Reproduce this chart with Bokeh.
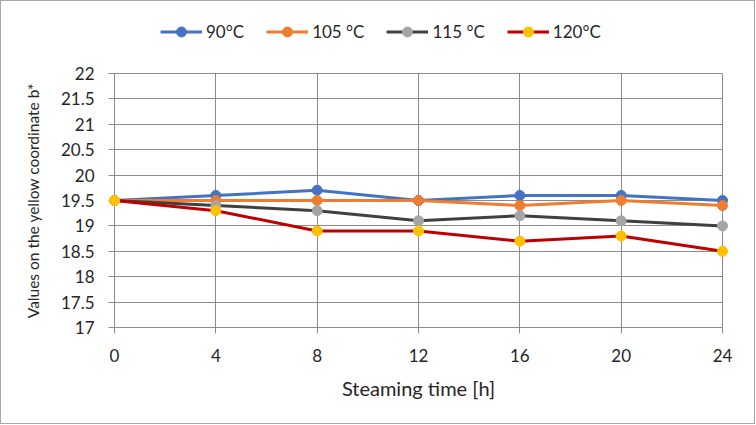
from bokeh.plotting import figure
from bokeh.layouts import column
from bokeh.models import Range1d, FixedTicker, Legend, LegendItem, Title
from bokeh.embed import file_html
from bokeh.resources import INLINE

# ---- data ----
hours = [0, 4, 8, 12, 16, 20, 24]
b_90 = [19.5, 19.6, 19.7, 19.5, 19.6, 19.6, 19.5]
b_105 = [19.5, 19.5, 19.5, 19.5, 19.4, 19.5, 19.4]
b_115 = [19.5, 19.4, 19.3, 19.1, 19.2, 19.1, 19.0]
b_120 = [19.5, 19.3, 18.9, 18.9, 18.7, 18.8, 18.5]
series_names = ["90°C", "105 °C", "115 °C", "120°C"]
x_ticks = [0, 4, 8, 12, 16, 20, 24]
y_ticks = [17, 17.5, 18, 18.5, 19, 19.5, 20, 20.5, 21, 21.5, 22]
x_label = "Steaming time [h]"
y_label = "Values on the yellow coordinate b*"

FONT = "Lato"
TXT = "#262626"
GRID = "#8c8c8c"
line_colors = ["#4472C4", "#ED7D31", "#404040", "#C00000"]
marker_colors = ["#4472C4", "#ED7D31", "#A5A5A5", "#FFC000"]
series = [b_90, b_105, b_115, b_120]

# ---- main chart ----
p = figure(width=753, height=372, output_backend="svg", toolbar_location=None,
           x_range=Range1d(0, 24), y_range=Range1d(17, 22),
           min_border_left=113, min_border_right=32, min_border_top=22, min_border_bottom=96)
p.frame_width = 608
p.frame_height = 254
p.outline_line_color = GRID
p.outline_line_width = 1

p.xaxis.ticker = FixedTicker(ticks=x_ticks)
p.yaxis.ticker = FixedTicker(ticks=y_ticks)
p.xaxis.minor_tick_line_color = None
p.yaxis.minor_tick_line_color = None
for ax in (p.xaxis, p.yaxis):
    ax.axis_line_color = GRID
    ax.major_tick_line_color = GRID
    ax.major_tick_in = 0
    ax.major_tick_out = 6
    ax.major_label_text_font = FONT
    ax.major_label_text_font_size = "17px"
    ax.major_label_text_color = TXT
    ax.axis_label_text_font = FONT
    ax.axis_label_text_color = TXT
    ax.axis_label_text_font_style = "normal"
p.yaxis.major_label_standoff = 14
p.xaxis.major_label_standoff = 15
p.xaxis.axis_label = x_label
p.xaxis.axis_label_text_font_size = "20px"
p.xaxis.axis_label_standoff = 11

p.xgrid.ticker = FixedTicker(ticks=x_ticks)
p.ygrid.ticker = FixedTicker(ticks=y_ticks)
p.xgrid.grid_line_color = GRID
p.ygrid.grid_line_color = GRID

ytitle = Title(text=y_label, align="center", offset=20, standoff=32,
               text_font=FONT, text_font_size="15.5px", text_color=TXT,
               text_font_style="normal")
p.add_layout(ytitle, "left")

for vals, lc, mc in zip(series, line_colors, marker_colors):
    p.line(hours, vals, line_color=lc, line_width=3)
    p.scatter(hours, vals, size=10, fill_color=mc, line_color=mc, level="overlay")

# ---- legend strip above the chart (its series lie outside its view) ----
lg = figure(width=753, height=50, output_backend="svg", toolbar_location=None,
            x_range=Range1d(100, 101), y_range=Range1d(100, 101), min_border=0)
lg.axis.visible = False
lg.grid.visible = False
lg.outline_line_color = None
items = []
for name, vals, lc, mc in zip(series_names, series, line_colors, marker_colors):
    ln = lg.line(hours, vals, line_color=lc, line_width=3)
    sc = lg.scatter(hours, vals, size=10, fill_color=mc, line_color=mc)
    items.append(LegendItem(label=name, renderers=[ln, sc]))
legend = Legend(items=items, orientation="horizontal", location=(46, 7),
                label_text_font=FONT, label_text_font_size="17px", label_text_color=TXT,
                glyph_width=42, glyph_height=25, spacing=22, padding=0, margin=0,
                label_standoff=4, border_line_color=None, background_fill_alpha=0)
lg.add_layout(legend, "center")

layout = column(lg, p, spacing=0, styles={"border": "1px solid #a6a6a6"})

open("out.html", "w").write(file_html(layout, INLINE))
